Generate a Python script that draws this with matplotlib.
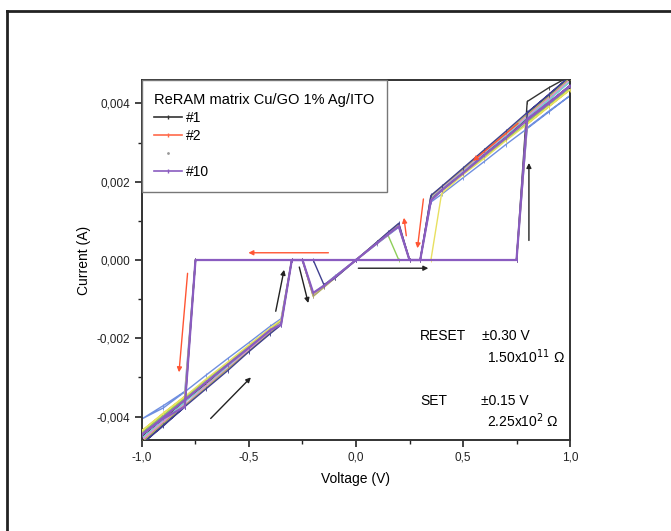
"""
I-V sweeps of the ReRAM matrix, 10 cycles.
"""

import numpy as np
import matplotlib.pyplot as plt
from matplotlib.lines import Line2D
from matplotlib.ticker import FuncFormatter, MultipleLocator

plt.rcParams['font.family'] = ['Liberation Sans', 'DejaVu Sans']

# voltage sweep (V), shared by every cycle
volt = [0.0, 0.1, 0.15, 0.2, 0.25, 0.75, 0.8, 0.9, 1.0, 0.9, 0.8, 0.7, 0.6,
        0.5, 0.4, 0.35, 0.3, -0.75, -0.8, -0.9, -1.0, -0.9, -0.8, -0.7, -0.6,
        -0.5, -0.4, -0.35, -0.3, -0.25, -0.2, -0.15, -0.1, 0.0]

# current per cycle (mA)
cyc1 = [0, 0.44, 0.66, 0.86, 0, 0, 4.05, 4.40, 4.70, 4.08, 3.62, 3.14, 2.72,
        2.24, 1.80, 1.56, 0, 0, -3.62, -4.08, -4.52, -4.04, -3.60, -3.16, -2.70,
        -2.26, -1.82, -1.60, 0, 0, -0.88, -0.67, -0.45, 0]
cyc2 = [0, 0.44, 0.67, 0.88, 0, 0, 3.55, 4.00, 4.46, 4.02, 3.57, 3.10, 2.68,
        2.22, 1.77, 1.55, 0, 0, -3.58, -4.02, -4.47, -4.00, -3.55, -3.13, -2.66,
        -2.23, -1.78, -1.57, 0, 0, -0.90, -0.66, -0.44, 0]
cyc3 = [0, 0.45, 0.63, 0.00, 0, 0, 3.52, 3.96, 4.40, 3.97, 3.50, 3.08, 2.62,
        2.20, 1.76, 1.54, 0, 0, -3.52, -3.98, -4.41, -3.96, -3.53, -3.06, -2.65,
        -2.19, -1.75, -1.55, 0, 0, -0.87, -0.65, -0.43, 0]
cyc4 = [0, 0.42, 0.63, 0.84, 0, 0, 3.38, 3.80, 4.20, 3.78, 3.36, 2.95, 2.52,
        2.10, 1.68, 1.48, 0, 0, -3.36, -3.72, -4.06, -3.78, -3.37, -2.94, -2.52,
        -2.11, -1.69, -1.50, 0, 0, -0.85, -0.64, -0.42, 0]
cyc5 = [0, 0.46, 0.68, 0.90, 0, 0, 3.64, 4.10, 4.56, 4.08, 3.65, 3.18, 2.74,
        2.27, 1.83, 1.60, 0, 0, -3.66, -4.10, -4.55, -4.11, -3.63, -3.20, -2.72,
        -2.28, -1.81, -1.60, 0, 0, -0.91, -0.68, -0.46, 0]
cyc6 = [0, 0.46, 0.69, 0.91, 0, 0, 3.70, 4.14, 4.62, 4.15, 3.68, 3.22, 2.76,
        2.30, 1.85, 1.62, 0, 0, -3.69, -4.15, -4.60, -4.13, -3.70, -3.21, -2.77,
        -2.29, -1.84, -1.61, 0, 0, -0.92, -0.69, -0.46, 0]
cyc7 = [0, 0.43, 0.65, 0.87, 0, 0, 3.48, 3.92, 4.35, 3.91, 3.47, 3.05, 2.60,
        2.18, 1.70, 0.00, 0, 0, -3.48, -3.91, -4.36, -3.92, -3.49, -3.04, -2.61,
        -2.17, -1.74, -1.53, 0, 0, -0.87, -0.65, -0.44, 0]
cyc8 = [0, 0.47, 0.70, 0.92, 0, 0, 3.72, 4.18, 4.66, 4.20, 3.73, 3.25, 2.80,
        2.32, 1.87, 1.63, 0, 0, -3.73, -4.19, -4.66, -4.18, -3.72, -3.26, -2.79,
        -2.33, -1.86, -1.64, 0, 0, -0.93, -0.70, -0.47, 0]
cyc9 = [0, 0.47, 0.71, 0.94, 0, 0, 3.76, 4.23, 4.70, 4.22, 3.77, 3.29, 2.82,
        2.35, 1.88, 1.65, 0, 0, -3.76, -4.22, -4.70, -4.24, -3.75, -3.29, -2.83,
        -2.34, -1.88, -1.66, 0, 0, 0.00, -0.63, -0.47, 0]
cyc10 = [0, 0.44, 0.66, 0.86, 0, 0, 3.60, 4.02, 4.45, 4.00, 3.58, 3.12, 2.68,
         2.22, 1.78, 1.52, 0, 0, -3.75, -4.05, -4.46, -4.02, -3.58, -3.12, -2.68,
         -2.24, -1.79, -1.65, 0, 0, -0.84, -0.66, -0.44, 0]

cycles = [cyc1, cyc2, cyc3, cyc4, cyc5, cyc6, cyc7, cyc8, cyc9, cyc10]
colors = ['#333333', '#ff6a4a', '#8fcf5a', '#6f8fe0', '#7fd0d0', '#e08fd0',
          '#e8e060', '#b0b060', '#404090', '#8a5cc0']

# sweep direction arrows: (V tail, I tail, V head, I head) in A
arrows_red = [(0.757, 0.00349, 0.547, 0.00253),
              (0.235, 0.00062, 0.224, 0.00108),
              (0.315, 0.00156, 0.287, 0.00030),
              (-0.129, 0.000185, -0.503, 0.000185),
              (-0.787, -0.00034, -0.827, -0.00287)]
arrows_black = [(0.808, 0.00050, 0.808, 0.00248),
                (0.011, -0.00021, 0.338, -0.00021),
                (-0.679, -0.00405, -0.491, -0.00300),
                (-0.375, -0.00131, -0.336, -0.00025),
                (-0.265, -0.00018, -0.223, -0.00110)]

fig = plt.figure(figsize=(6.71, 5.31), dpi=100)
ax = fig.add_axes([0.2116, 0.1714, 0.6379, 0.6779])

v = np.array(volt)
for k, (cur, col) in enumerate(zip(cycles, colors)):
    lw = 1.6 if k == 9 else 1.0
    ax.plot(v, np.array(cur) * 1e-3, color=col, lw=lw, marker='|', ms=2.5,
            mew=0.6, zorder=2 + k * 0.1)

for x0, y0, x1, y1 in arrows_red:
    ax.annotate('', xy=(x1, y1), xytext=(x0, y0),
                arrowprops=dict(arrowstyle='-|>', color='#ff5533', lw=1.0,
                                mutation_scale=7, shrinkA=0, shrinkB=0))
for x0, y0, x1, y1 in arrows_black:
    ax.annotate('', xy=(x1, y1), xytext=(x0, y0),
                arrowprops=dict(arrowstyle='-|>', color='#222222', lw=1.0,
                                mutation_scale=7, shrinkA=0, shrinkB=0))

ax.set_xlim(-1.0, 1.0)
ax.set_ylim(-0.0046, 0.0046)
ax.xaxis.set_major_locator(MultipleLocator(0.5))
ax.xaxis.set_minor_locator(MultipleLocator(0.25))
ax.yaxis.set_major_locator(MultipleLocator(0.002))
ax.yaxis.set_minor_locator(MultipleLocator(0.001))
ax.xaxis.set_major_formatter(FuncFormatter(lambda x, p: f'{x:.1f}'.replace('.', ',')))
ax.yaxis.set_major_formatter(FuncFormatter(lambda y, p: f'{y:.3f}'.replace('.', ',')))
ax.tick_params(which='both', direction='out', top=False, right=False,
               labelsize=8.5, colors='#222222')
ax.tick_params(which='major', length=5, width=1.2)
ax.tick_params(which='minor', length=3, width=1.0)
for s in ax.spines.values():
    s.set_linewidth(1.4)
    s.set_color('#333333')

ax.set_xlabel('Voltage (V)', fontsize=10, labelpad=6)
ax.set_ylabel('Current (A)', fontsize=10, labelpad=4)

handles = [Line2D([], [], color=colors[0], lw=1.2, marker='|', ms=3),
           Line2D([], [], color=colors[1], lw=1.2, marker='|', ms=3),
           Line2D([], [], color='#999999', lw=0, marker='.', ms=2),
           Line2D([], [], color=colors[9], lw=1.2, marker='|', ms=3)]
leg = ax.legend(handles, ['#1', '#2', '', '#10'], loc='upper left',
                bbox_to_anchor=(0, 1), borderaxespad=0, fancybox=False,
                title='ReRAM matrix Cu/GO 1% Ag/ITO', title_fontsize=10.5,
                fontsize=10, alignment='left', handlelength=2.0,
                labelspacing=0.3, borderpad=0.9, handletextpad=0.3,
                framealpha=1)
leg.get_frame().set_edgecolor('#777777')
leg.get_frame().set_linewidth(1.0)
leg.set_zorder(10)

ax.text(0.3, -0.00205, 'RESET', fontsize=10)
ax.text(0.59, -0.00205, '\u00b10.30 V', fontsize=10)
ax.text(0.61, -0.00262, '1.50x10$^{11}$ \u03a9', fontsize=10)
ax.text(0.3, -0.0037, 'SET', fontsize=10)
ax.text(0.585, -0.0037, '\u00b10.15 V', fontsize=10)
ax.text(0.61, -0.00428, '2.25x10$^{2}$ \u03a9', fontsize=10)

# outer frame of the figure
fig.add_artist(Line2D([7 / 671, 7 / 671], [0, 1 - 11 / 531], color='#222222', lw=2))
fig.add_artist(Line2D([7 / 671, 1], [1 - 11 / 531, 1 - 11 / 531], color='#222222', lw=2))

plt.savefig('out.png', dpi=100)
